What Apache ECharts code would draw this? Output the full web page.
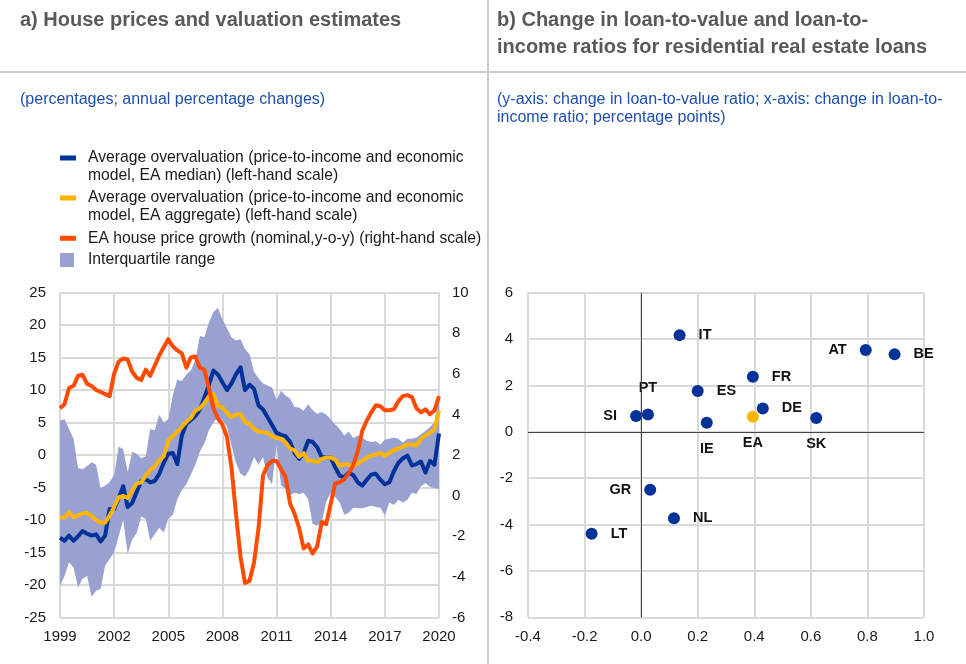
<!DOCTYPE html>
<html>
<head>
<meta charset="utf-8">
<title>House prices and loan ratios</title>
<script src="https://cdn.jsdelivr.net/npm/echarts@6/dist/echarts.min.js"></script>
<style>
  html, body { margin: 0; padding: 0; background: #fff; }
  #chart { width: 966px; height: 664px; }
</style>
</head>
<body>
<div id="chart"></div>
<script>
// quarterly categories 1999Q1 .. 2020Q1
const quarters = [];
for (let y = 1999; y <= 2020; y++) {
  for (let q = 1; q <= 4; q++) {
    if (y < 2020 || q === 1) quarters.push(y + 'Q' + q);
  }
}

// panel a) - left-hand scale
const medianOvervaluation = [
  -12.7, -13.2, -12.4, -13.2, -12.5, -11.7, -12.1, -12.4, -12.2, -13.3,
  -12.4, -8.3, -8.3, -6.6, -4.8, -8.0, -7.4, -5.7, -4.0, -3.7,
  -4.2, -4.0, -2.9, -1.2, 0.2, 0.3, -1.4, 3.0, 4.8, 5.4,
  6.0, 7.0, 8.8, 10.8, 13.0, 12.4, 11.2, 10.0, 11.0, 12.4,
  13.5, 10.0, 10.8, 10.2, 7.6, 7.0, 5.8, 4.6, 3.4, 3.1,
  2.9, 2.0, 0.3, -0.6, 0.3, 2.2, 2.0, 1.2, -0.3, -0.4,
  -0.4, -1.9, -3.2, -3.4, -2.7, -3.1, -4.2, -4.7, -3.8, -3.0,
  -2.9, -3.8, -4.5, -4.2, -2.5, -1.2, -0.5, -0.1, -1.6, -1.4,
  -1.0, -2.7, -0.9, -1.5, 3.3
];
const aggregateOvervaluation = [
  -9.6, -9.6, -8.8, -9.6, -9.3, -9.0, -8.9, -9.4, -10.0, -10.4,
  -10.4, -9.3, -8.0, -6.5, -6.3, -6.6, -5.5, -4.4, -4.2, -3.2,
  -2.3, -1.8, -0.8, -0.2, 2.2, 2.9, 3.6, 4.3, 5.1, 5.7,
  6.8, 7.2, 8.0, 9.0, 9.4, 7.6, 7.3, 6.5, 5.8, 6.2,
  6.3, 5.1, 4.8, 4.0, 3.6, 3.5, 3.4, 2.9, 2.6, 2.5,
  1.9, 1.0, 0.7, -0.3, 0.3, -0.9, -0.9, -1.1, -0.6, -0.4,
  -0.4, -0.7, -1.7, -1.4, -1.5, -1.8, -1.3, -0.9, -0.4, -0.1,
  0.1, 0.3, -0.1, 0.3, 0.8, 1.0, 1.3, 1.6, 1.6, 1.5,
  2.5, 3.0, 3.4, 4.0, 6.8
];
const iqrUpper = [
  5.3, 5.5, 4.0, 2.5, -2.0, -2.2, -1.7, -1.1, -1.5, -5.1,
  -4.7, -4.2, -3.0, 1.3, 0.9, -2.6, 0.5, 0.2, -0.5, -0.2,
  4.0, 3.8, 6.2, 5.0, 5.5, 9.2, 11.6, 11.4, 12.4, 13.0,
  14.6, 18.3, 18.1, 20.4, 22.0, 22.6, 20.9, 19.5, 18.1, 17.6,
  17.8, 16.3, 15.5, 12.8, 11.8, 11.0, 10.7, 10.4, 8.5, 9.9,
  9.1, 8.7, 7.4, 7.3, 6.8, 7.8, 6.9, 6.3, 6.6, 6.2,
  5.5, 4.7, 4.0, 3.0, 3.6, 2.6, 3.0, 2.6, 2.2, 2.0,
  2.1, 1.6, 2.4, 2.5, 2.7, 2.5, 1.9, 2.5, 2.5, 2.7,
  3.2, 3.7, 4.3, 5.0, 9.5
];
const iqrLower = [
  -20.1, -18.6, -16.5, -17.3, -20.4, -19.0, -18.6, -21.8, -20.9, -20.6,
  -17.0, -16.0, -15.0, -12.5, -10.0, -15.2, -13.0, -12.0, -9.5, -9.8,
  -13.2, -12.2, -11.2, -11.9, -9.8, -9.2, -6.8, -5.4, -4.5, -3.0,
  -1.5, 0.5, 1.8, 3.8, 5.0, 5.8, 5.4, 4.4, 1.5, -1.2,
  -2.9, -3.3, -2.2, -0.3, -1.5, -0.3, -3.5, -4.5, 1.5, -4.7,
  -5.2, -6.2, -5.8, -6.0, -5.8, -6.8, -10.6, -10.9, -10.4, -7.2,
  -5.8, -6.5, -7.3, -9.2, -8.9, -8.1, -8.2, -8.2, -8.0, -7.8,
  -8.0, -8.1, -9.3, -7.3, -7.7, -6.9, -7.3, -6.9, -5.8, -6.0,
  -4.8, -4.3, -4.9, -5.1, -5.2
];
// panel a) - right-hand scale
const housePriceGrowth = [
  4.3, 4.5, 5.3, 5.4, 5.9, 5.95, 5.5, 5.4, 5.2, 5.1,
  5.0, 4.9, 6.0, 6.6, 6.75, 6.7, 6.1, 5.8, 5.7, 6.2,
  5.9, 6.4, 6.9, 7.3, 7.7, 7.35, 7.15, 7.0, 6.3, 6.8,
  6.85, 6.3, 6.2, 5.3, 4.3, 3.8, 3.5, 2.9, 1.4, -0.9,
  -3.0, -4.3, -4.2, -3.3, -1.6, 1.0, 1.5, 1.7, 1.7, 1.3,
  0.9, -0.4, -0.9, -1.6, -2.6, -2.4, -2.85, -2.5, -1.3, -1.4,
  -0.4, 0.6, 0.65, 0.8, 1.1, 1.5, 2.2, 3.2, 3.7, 4.1,
  4.45, 4.4, 4.2, 4.2, 4.25, 4.65, 4.9, 4.95, 4.85, 4.3,
  4.1, 4.25, 4.0, 4.2, 4.9
];

// panel b)
const countries = ['IT', 'AT', 'BE', 'FR', 'ES', 'PT', 'SI', 'IE', 'DE', 'EA', 'SK', 'GR', 'NL', 'LT'];
const ltiChange = [0.136, 0.794, 0.896, 0.395, 0.200, 0.024, -0.018, 0.232, 0.430, 0.395, 0.619, 0.032, 0.116, -0.175];
const ltvChange = [4.17, 3.53, 3.34, 2.37, 1.76, 0.75, 0.68, 0.39, 1.01, 0.65, 0.60, -2.50, -3.73, -4.40];

// label placement for the scatter names
const labelSide = {
  IT: 'right', AT: 'left', BE: 'right', FR: 'right', ES: 'right', PT: 'top', SI: 'left',
  IE: 'bottom', DE: 'right', EA: 'bottom', SK: 'bottom', GR: 'left', NL: 'right', LT: 'right'
};

const blue = '#003299';
const yellow = '#ffb400';
const orange = '#ff4b00';
const lavender = '#98a1d0';
const gridGrey = '#d9d9d9';
const textColor = '#1a1a1a';
const font = 'Liberation Sans, Arial, sans-serif';

const medianName = 'Average overvaluation (price-to-income and economic\nmodel, EA median) (left-hand scale)';
const aggregateName = 'Average overvaluation (price-to-income and economic\nmodel, EA aggregate) (left-hand scale)';
const growthName = 'EA house price growth (nominal,y-o-y) (right-hand scale)';
const iqrName = 'Interquartile range';

// legend icon: a filled rect inside a larger (invisible) box
const iconPath = (boxW, boxH, x, y, w, h) =>
  'path://M0,0H0.01V0.01Z M' + x + ',' + y + 'H' + (x + w) + 'V' + (y + h) + 'H' + x + 'Z M' +
  (boxW - 0.01) + ',' + (boxH - 0.01) + 'H' + boxW + 'V' + boxH + 'Z';

const legendBase = {
  orient: 'vertical',
  left: 60,
  padding: 0,
  selectedMode: false,
  itemStyle: { borderWidth: 0 },
  textStyle: { fontFamily: font, fontSize: 15.7, lineHeight: 18, color: textColor }
};

const scatterData = countries.map((c, i) => ({
  name: c,
  value: [ltiChange[i], ltvChange[i]],
  itemStyle: { color: c === 'EA' ? yellow : blue, opacity: 1 },
  label: { position: labelSide[c] }
}));

const option = {
  animation: false,
  backgroundColor: '#ffffff',
  title: [
    {
      text: 'a) House prices and valuation estimates', left: 20, top: 8, padding: 0,
      textStyle: { fontFamily: font, fontSize: 20, fontWeight: 'bold', color: '#595959', lineHeight: 24 }
    },
    {
      text: 'b) Change in loan-to-value and loan-to-\nincome ratios for residential real estate loans',
      left: 497, top: 6.5, padding: 0,
      textStyle: { fontFamily: font, fontSize: 20, fontWeight: 'bold', color: '#595959', lineHeight: 27 }
    },
    {
      text: '(percentages; annual percentage changes)', left: 20, top: 91, padding: 0,
      textStyle: { fontFamily: font, fontSize: 16, fontWeight: 'normal', color: '#1d4fb0', lineHeight: 18 }
    },
    {
      text: '(y-axis: change in loan-to-value ratio; x-axis: change in loan-to-\nincome ratio; percentage points)',
      left: 497, top: 91, padding: 0,
      textStyle: { fontFamily: font, fontSize: 16, fontWeight: 'normal', color: '#1d4fb0', lineHeight: 18 }
    }
  ],
  graphic: [
    { type: 'line', silent: true, shape: { x1: 488, y1: 0, x2: 488, y2: 664 }, style: { stroke: '#cccccc', lineWidth: 2 } },
    { type: 'line', silent: true, shape: { x1: 0, y1: 72, x2: 966, y2: 72 }, style: { stroke: '#cccccc', lineWidth: 2 } }
  ],
  legend: [
    Object.assign({}, legendBase, {
      top: 149,
      itemWidth: 23, itemHeight: 24, itemGap: 4,
      data: [
        { name: medianName, icon: iconPath(23, 24, 0, 0.5, 16, 5) },
        { name: aggregateName, icon: iconPath(23, 24, 0, 0.5, 16, 5) }
      ]
    }),
    Object.assign({}, legendBase, {
      top: 229.3,
      itemWidth: 23, itemHeight: 5,
      data: [{ name: growthName, icon: iconPath(23, 5, 0, 0, 16, 5) }]
    }),
    Object.assign({}, legendBase, {
      top: 251,
      itemWidth: 23, itemHeight: 14,
      data: [{ name: iqrName, icon: iconPath(23, 14, 0, 0, 14, 14) }]
    })
  ],
  grid: [
    { left: 60, top: 292.5, width: 379, height: 325 },
    { left: 528, top: 292.7, width: 396, height: 324.6 }
  ],
  xAxis: [
    {
      gridIndex: 0,
      type: 'category',
      data: quarters,
      boundaryGap: false,
      axisLine: { show: true, lineStyle: { color: gridGrey, width: 2 } },
      axisTick: { show: false },
      axisLabel: {
        interval: 11, margin: 12, color: textColor, fontFamily: font, fontSize: 15,
        formatter: v => v.slice(0, 4)
      },
      splitLine: { show: true, interval: 11, lineStyle: { color: gridGrey, width: 2 } }
    },
    {
      gridIndex: 1,
      type: 'value',
      min: -0.4, max: 1.0, interval: 0.2,
      axisLine: { show: false },
      axisTick: { show: false },
      axisLabel: {
        margin: 12, color: textColor, fontFamily: font, fontSize: 15,
        formatter: v => v.toFixed(1)
      },
      splitLine: { show: true, lineStyle: { color: gridGrey, width: 2 } }
    }
  ],
  yAxis: [
    {
      gridIndex: 0,
      type: 'value',
      min: -25, max: 25, interval: 5,
      axisLine: { show: false },
      axisTick: { show: false },
      axisLabel: { margin: 14, color: textColor, fontFamily: font, fontSize: 15 },
      splitLine: { show: true, lineStyle: { color: gridGrey, width: 2 } }
    },
    {
      gridIndex: 0,
      type: 'value',
      position: 'right',
      min: -6, max: 10, interval: 2,
      alignTicks: false,
      axisLine: { show: false },
      axisTick: { show: false },
      axisLabel: { margin: 13, color: textColor, fontFamily: font, fontSize: 15 },
      splitLine: { show: false }
    },
    {
      gridIndex: 1,
      type: 'value',
      min: -8, max: 6, interval: 2,
      axisLine: { show: false },
      axisTick: { show: false },
      axisLabel: { margin: 15, color: textColor, fontFamily: font, fontSize: 15 },
      splitLine: { show: true, lineStyle: { color: gridGrey, width: 2 } }
    }
  ],
  series: [
    {
      name: 'iqr-base',
      type: 'line',
      xAxisIndex: 0, yAxisIndex: 0,
      data: iqrLower,
      stack: 'iqr', stackStrategy: 'all',
      symbol: 'none',
      lineStyle: { opacity: 0 },
      silent: true
    },
    {
      name: iqrName,
      type: 'line',
      xAxisIndex: 0, yAxisIndex: 0,
      data: iqrUpper.map((v, i) => +(v - iqrLower[i]).toFixed(2)),
      stack: 'iqr', stackStrategy: 'all',
      symbol: 'none',
      color: lavender,
      lineStyle: { opacity: 0 },
      areaStyle: { color: lavender, opacity: 1 },
      silent: true
    },
    {
      name: medianName,
      type: 'line',
      xAxisIndex: 0, yAxisIndex: 0,
      data: medianOvervaluation,
      symbol: 'none',
      color: blue,
      lineStyle: { color: blue, width: 4, join: 'round' }
    },
    {
      name: aggregateName,
      type: 'line',
      xAxisIndex: 0, yAxisIndex: 0,
      data: aggregateOvervaluation,
      symbol: 'none',
      color: yellow,
      lineStyle: { color: yellow, width: 4, join: 'round' }
    },
    {
      name: growthName,
      type: 'line',
      xAxisIndex: 0, yAxisIndex: 1,
      data: housePriceGrowth,
      symbol: 'none',
      color: orange,
      lineStyle: { color: orange, width: 4, join: 'round' }
    },
    {
      name: 'countries',
      type: 'scatter',
      xAxisIndex: 1, yAxisIndex: 2,
      symbolSize: 12,
      data: scatterData,
      label: {
        show: true,
        formatter: '{b}',
        distance: 13,
        color: '#111111',
        fontFamily: font,
        fontSize: 14.5,
        fontWeight: 'bold'
      },
      markLine: {
        silent: true,
        symbol: ['none', 'none'],
        label: { show: false },
        lineStyle: { color: '#444444', width: 1, type: 'solid' },
        data: [{ xAxis: 0 }, { yAxis: 0 }]
      }
    }
  ]
};

const myChart = echarts.init(document.getElementById('chart'));
myChart.setOption(option);
window.onresize = function () {
  myChart.resize();
};
</script>
</body>
</html>
